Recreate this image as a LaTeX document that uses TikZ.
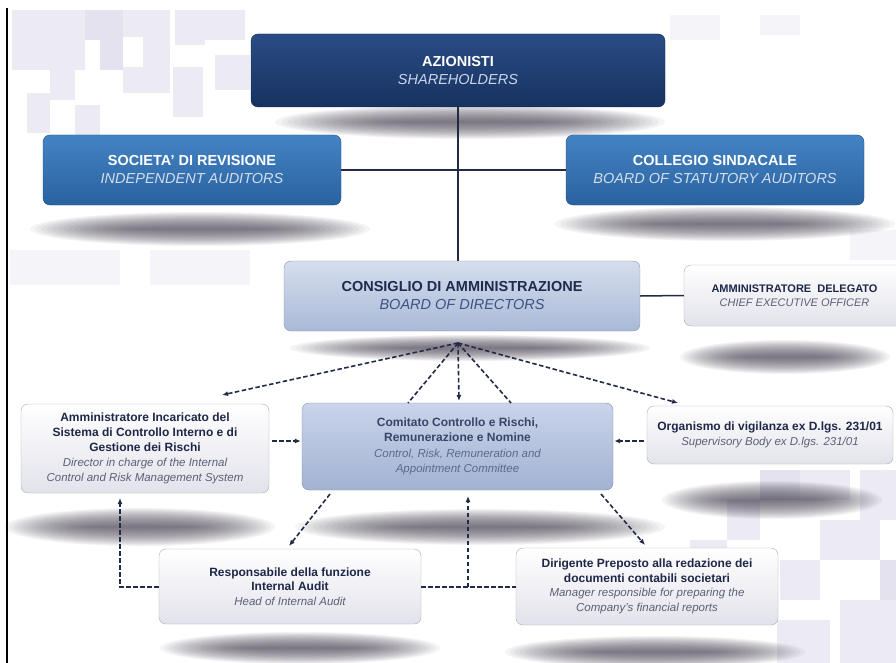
\documentclass[tikz,border=0pt]{standalone}
\usepackage{fontspec}
\setmainfont{Liberation Sans}
\usetikzlibrary{arrows.meta,calc}
\definecolor{navyT}{HTML}{2A4C84}
\definecolor{navyB}{HTML}{163260}
\definecolor{blueT}{HTML}{4483C4}
\definecolor{blueB}{HTML}{2A629F}
\definecolor{cdaT}{HTML}{D6DEEE}
\definecolor{cdaB}{HTML}{A9B9D6}
\definecolor{comT}{HTML}{CAD4EA}
\definecolor{comB}{HTML}{A2B2D1}
\definecolor{whT}{HTML}{FFFFFF}
\definecolor{whB}{HTML}{E2E2EB}
\definecolor{boldC}{HTML}{1E2747}
\definecolor{itC}{HTML}{5B6075}
\definecolor{lineC}{HTML}{222B45}
\definecolor{shC}{HTML}{4E4858}
\definecolor{bgA}{HTML}{ECEAF3}
\definecolor{bgB}{HTML}{E4E2EE}
\definecolor{bgC}{HTML}{F5F4F9}
\newcommand{\softblob}[4]{%
  \foreach \k in {1,...,20}{%
    \fill[shC, opacity=0.06] (#1,#2) ellipse ({#3*(0.35+0.65*\k/20)} and {#4*\k/20});%
  }%
}
\begin{document}
\begin{tikzpicture}[x=1pt,y=-1pt,
  box/.style={rounded corners=7pt, align=center, inner sep=2pt},
  navybox/.style={box, top color=navyT, bottom color=navyB, draw=navyB!80!black, text=white},
  bluebox/.style={box, top color=blueT, bottom color=blueB, draw=blueB!80!black, text=white},
  cdabox/.style={box, top color=cdaT, bottom color=cdaB, draw=cdaB!80!black},
  combox/.style={box, top color=comT, bottom color=comB, draw=comB!80!black},
  whbox/.style={box, top color=whT, bottom color=whB, draw=whB!75!black},
  bigfont/.style={font=\fontsize{14.5}{18}\selectfont},
  solidline/.style={draw=lineC, line width=1.5pt},
  dashline/.style={draw=lineC, line width=1.6pt, dash pattern=on 4.5pt off 2.5pt},
  darr/.style={dashline, -{Latex[length=6pt,width=5pt]}},
  bgsq/.style={fill=bgA}
]
\useasboundingbox (0,0) rectangle (896,663);
\fill[white] (0,0) rectangle (896,663);
% background squares
\foreach \a/\b/\c/\d in {12/10/85/70, 123/10/170/37, 143/37/170/93, 175/10/205/45, 173/67/203/117, 205/10/245/40,
  27/93/50/133, 75/105/100/135, 123/67/147/93, 50/70/75/100, 215/55/250/90,
  727/500/760/540, 800/470/850/500, 820/520/880/560, 780/560/820/600, 840/600/896/663, 860/470/896/520, 777/620/830/663, 690/540/727/575}
  \fill[bgsq] (\a,\b) rectangle (\c,\d);
\foreach \a/\b/\c/\d in {85/10/123/40, 100/40/123/70, 760/470/800/500, 880/560/896/600}
  \fill[bgB] (\a,\b) rectangle (\c,\d);
\foreach \a/\b/\c/\d in {10/250/120/285, 150/250/250/285, 670/15/720/40, 760/15/800/35, 850/230/896/260}
  \fill[bgC] (\a,\b) rectangle (\c,\d);
% left border
\draw[black, line width=1.3pt] (7,8) -- (7,663);
% shadows
\softblob{470}{122}{195}{17}
\softblob{200}{229}{170}{17}
\softblob{725}{224}{170}{17}
\softblob{470}{348}{180}{13}
\softblob{785}{357}{105}{17}
\softblob{140}{527}{135}{19}
\softblob{480}{527}{185}{18}
\softblob{772}{500}{110}{19}
\softblob{300}{648}{140}{16}
\softblob{655}{652}{150}{16}
% boxes
\node[navybox, bigfont, minimum width=414pt, minimum height=73pt] (az) at (458,70.5)
  {{\bfseries AZIONISTI}\\{\itshape\color[HTML]{CAD6EA}SHAREHOLDERS}};
\node[bluebox, bigfont, minimum width=298pt, minimum height=70pt] (soc) at (192,170)
  {{\bfseries SOCIETA' DI REVISIONE}\\{\itshape\color[HTML]{D2DEEE}INDEPENDENT AUDITORS}};
\node[bluebox, bigfont, minimum width=298pt, minimum height=70pt] (col) at (715,170)
  {{\bfseries COLLEGIO SINDACALE}\\{\itshape\color[HTML]{D2DEEE}BOARD OF STATUTORY AUDITORS}};
\node[cdabox, bigfont, minimum width=356pt, minimum height=70pt] (cda) at (462,296)
  {{\bfseries\color[HTML]{1E2B4F}CONSIGLIO DI AMMINISTRAZIONE}\\{\itshape\color[HTML]{3D5283}BOARD OF DIRECTORS}};
\node[whbox, font=\fontsize{11}{14}\selectfont, minimum width=221pt, minimum height=61pt] (ad) at (794.5,295.5)
  {{\bfseries\color{boldC}AMMINISTRATORE \ DELEGATO}\\{\itshape\color{itC}CHIEF EXECUTIVE OFFICER}};
\node[whbox, font=\fontsize{12}{15}\selectfont, minimum width=248pt, minimum height=89pt] (aic) at (145,448.5)
  {{\bfseries\color{boldC}Amministratore Incaricato del}\\{\bfseries\color{boldC}Sistema di Controllo Interno e di}\\{\bfseries\color{boldC}Gestione dei Rischi}\\
   {\fontsize{11.5}{15}\selectfont\itshape\color{itC}Director in charge of the Internal}\\{\fontsize{11.5}{15}\selectfont\itshape\color{itC}Control and Risk Management System}};
\node[combox, font=\fontsize{12}{15.5}\selectfont, minimum width=311pt, minimum height=87pt] (com) at (457.5,446.5)
  {{\bfseries\color[HTML]{37456A}Comitato Controllo e Rischi,}\\{\bfseries\color[HTML]{37456A}Remunerazione e Nomine}\\
   {\fontsize{11.5}{15.5}\selectfont\itshape\color[HTML]{5A6A8C}Control, Risk, Remuneration and}\\{\fontsize{11.5}{15.5}\selectfont\itshape\color[HTML]{5A6A8C}Appointment Committee}};
\node[whbox, font=\fontsize{12}{15}\selectfont, minimum width=246pt, minimum height=58pt] (org) at (770,435)
  {{\bfseries\color{boldC}Organismo di vigilanza ex D.lgs. 231/01}\\{\fontsize{11.5}{15}\selectfont\itshape\color{itC}Supervisory Body ex D.lgs. 231/01}};
\node[whbox, font=\fontsize{12}{14.5}\selectfont, minimum width=262pt, minimum height=75pt] (resp) at (290,586.5)
  {{\bfseries\color{boldC}Responsabile della funzione}\\{\bfseries\color{boldC}Internal Audit}\\{\fontsize{11.5}{14.5}\selectfont\itshape\color{itC}Head of Internal Audit}};
\node[whbox, font=\fontsize{12}{14.5}\selectfont, minimum width=262pt, minimum height=77pt] (dir) at (647,586.5)
  {{\bfseries\color{boldC}Dirigente Preposto alla redazione dei}\\{\bfseries\color{boldC}documenti contabili societari}\\
   {\fontsize{11.5}{14.5}\selectfont\itshape\color{itC}Manager responsible for preparing the}\\{\fontsize{11.5}{14.5}\selectfont\itshape\color{itC}Company's financial reports}};
% solid connectors
\draw[solidline] (az.south) -- (az.south |- cda.north);
\draw[solidline] (soc.east) -- (col.west);
\draw[solidline] (cda.east) -- (ad.west);
% coordinates
\coordinate (hub) at (458,343);
\coordinate (tAic) at (222,395);
\coordinate (tCom1) at (408,403);
\coordinate (tCom2) at (459,401);
\coordinate (tCom3) at (511,403);
\coordinate (tOrg) at (678,403);
\coordinate (yh) at (0,441);
\coordinate (comBL) at (330,494);
\coordinate (respT) at (289,546);
\coordinate (comBR) at (601,494);
\coordinate (dirT) at (645,545);
\coordinate (lcorner) at (120,587);
\coordinate (aicB) at (120,498);
\coordinate (mjoin) at (468,587);
\coordinate (comBot) at (468,496);
% dashed connectors
\draw[darr] (hub) -- (tAic);
\draw[dashline] (hub) -- (tCom1);
\draw[darr] (hub) -- (tCom2);
\draw[dashline] (hub) -- (tCom3);
\draw[darr] (hub) -- (tOrg);
\draw[darr] ([xshift=3pt]aic.east |- yh) -- ([xshift=-1pt]com.west |- yh);
\draw[darr] ([xshift=-3pt]org.west |- yh) -- ([xshift=1pt]com.east |- yh);
\draw[darr] (comBL) -- (respT);
\draw[darr] (comBR) -- (dirT);
\draw[darr] (resp.west |- lcorner) -- (lcorner) -- (aicB);
\draw[dashline] (resp.east |- mjoin) -- (dir.west |- mjoin);
\draw[darr] (mjoin) -- (comBot);
\end{tikzpicture}
\end{document}
